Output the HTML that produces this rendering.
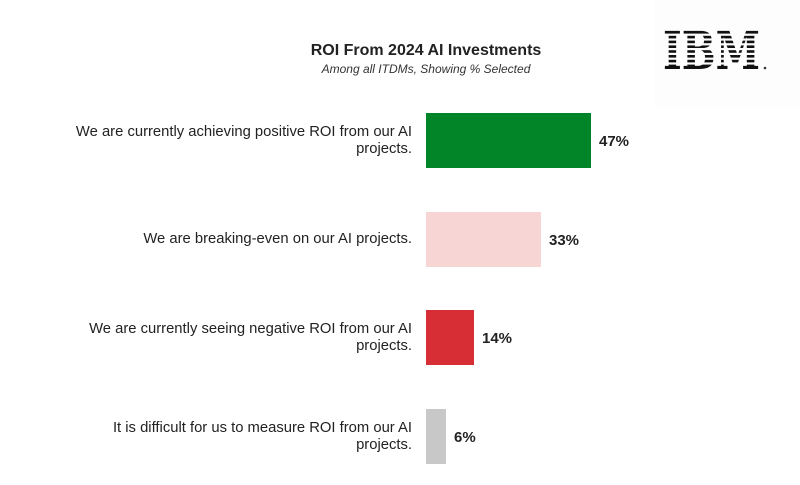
<!DOCTYPE html>
<html><head><meta charset="utf-8"><style>
html,body{margin:0;padding:0;background:#fff;}
body{width:800px;height:485px;position:relative;overflow:hidden;font-family:"Liberation Sans",Arial,sans-serif;color:#222;}
.t{position:absolute;left:226px;width:400px;text-align:center;}
.lab{position:absolute;right:388px;width:345px;text-align:right;font-size:14.8px;line-height:17px;color:#222;}
.bar{position:absolute;left:426px;height:55px;}
.v{position:absolute;font-size:15px;font-weight:bold;color:#222;}
</style></head><body>
<div style="position:absolute;left:655px;top:0;width:145px;height:107px;background:#fdfdfd"></div>
<svg style="position:absolute;left:0;top:0" width="800" height="485">
<text x="663" y="69" font-family="DejaVu Serif" font-weight="bold" font-size="52" textLength="97" lengthAdjust="spacingAndGlyphs" fill="#111">IBM</text>
<g fill="#fdfdfd">
<rect x="660" y="33.6" width="105" height="2.2"/>
<rect x="660" y="38.4" width="105" height="2.2"/>
<rect x="660" y="43.2" width="105" height="2.2"/>
<rect x="660" y="48.0" width="105" height="2.2"/>
<rect x="660" y="52.8" width="105" height="2.2"/>
<rect x="660" y="57.6" width="105" height="2.2"/>
<rect x="660" y="62.4" width="105" height="2.2"/>
</g>
<circle cx="765" cy="68" r="1.3" fill="#333"/>
</svg>
<div class="t" style="top:42px;font-size:16px;font-weight:bold;">ROI From 2024 AI Investments</div>
<div class="t" style="top:62px;font-size:12px;font-style:italic;color:#333;">Among all ITDMs, Showing % Selected</div>

<div class="lab" style="top:124px">We are currently achieving positive ROI from our AI projects.</div>
<div class="bar" style="top:113px;width:165px;background:#028428"></div>
<div class="v" style="left:599px;top:133px">47%</div>

<div class="lab" style="top:231px">We are breaking-even on our AI projects.</div>
<div class="bar" style="top:212px;width:115px;background:#f7d5d5"></div>
<div class="v" style="left:549px;top:232px">33%</div>

<div class="lab" style="top:321px">We are currently seeing negative ROI from our AI projects.</div>
<div class="bar" style="top:310px;width:48px;background:#d62e34"></div>
<div class="v" style="left:482px;top:330px">14%</div>

<div class="lab" style="top:420px">It is difficult for us to measure ROI from our AI projects.</div>
<div class="bar" style="top:409px;width:20px;background:#c8c8c8"></div>
<div class="v" style="left:454px;top:429px">6%</div>
</body></html>
